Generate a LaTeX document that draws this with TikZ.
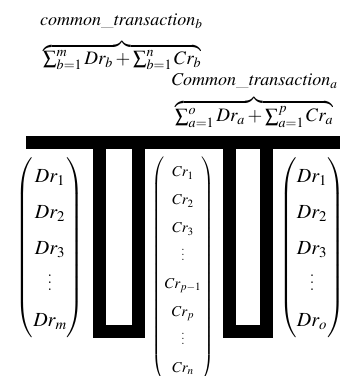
\documentclass[tikz,border=0pt]{standalone}
\usepackage{amsmath}
\usepackage{mathptmx}
\usetikzlibrary{positioning}

% vertical dots with a chosen spacing
\newcommand{\colvdots}[1]{\vbox{\baselineskip#1\lineskiplimit0pt\hbox{.}\hbox{.}\hbox{.}}}

\begin{document}
\begin{tikzpicture}[x=1pt, y=-1pt,
  big/.style={inner sep=0pt, font=\fontsize{20}{24}\selectfont},
  small/.style={inner sep=0pt, font=\fontsize{15}{18}\selectfont},
  lab/.style={inner sep=0pt, anchor=base west, font=\fontsize{18}{21}\selectfont},
  sumf/.style={inner sep=0pt, anchor=north west, font=\fontsize{19}{22}\selectfont},
  bar/.style={line width=13pt, line cap=butt, line join=miter}]
\clip (0,0) rectangle (342,376);
% ---- brace labels on top
\node[lab] (commonb) at (40,25) {$\mathit{common\_transaction}_b$};
\node[sumf] (sumb) at (43,42) {$\overbrace{\textstyle\sum_{b=1}^{m} Dr_b+\sum_{b=1}^{n} Cr_b}$};
\node[lab] (commona) at (171,85) {$\mathit{Common\_transaction}_a$};
\node[sumf] (suma) at (175,98) {$\overbrace{\textstyle\sum_{a=1}^{o} Dr_a+\sum_{a=1}^{p} Cr_a}$};
% ---- black bar with two loops
\draw[bar] (26,142.5) -- (340,142.5);
\draw[bar] (99,142) -- (99,331.5) -- (138,331.5) -- (138,142);
\draw[bar] (229.5,142) -- (229.5,331.5) -- (266,331.5) -- (266,142);
% ---- vectors
\renewcommand{\arraystretch}{1.5}
\node[big] (drb) at (50,247.5) {$\begin{pmatrix} Dr_1\\ Dr_2\\ Dr_3\\ \colvdots{7pt}\\ Dr_m \end{pmatrix}$};
\node[small] (cr) at (183,269) {\renewcommand{\arraystretch}{1.55}$\begin{pmatrix} Cr_1\\ Cr_2\\ Cr_3\\ \colvdots{5pt}\\ Cr_{p-1}\\ Cr_p\\ \colvdots{5pt}\\ Cr_n \end{pmatrix}$};
\node[big] (dra) at (312,247.5) {\setlength{\arraycolsep}{2pt}$\begin{pmatrix} Dr_1\\ Dr_2\\ Dr_3\\ \colvdots{7pt}\\ Dr_o \end{pmatrix}$};
\end{tikzpicture}
\end{document}
